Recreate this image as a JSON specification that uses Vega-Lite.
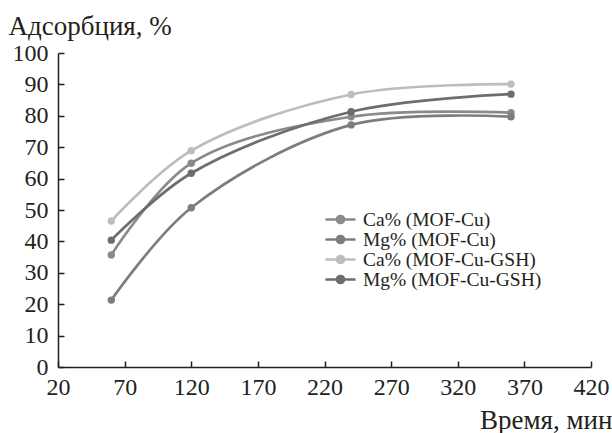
{
  "$schema": "https://vega.github.io/schema/vega-lite/v6.json",
  "width": 533,
  "height": 314,
  "autosize": "none",
  "padding": {"left": 58, "top": 53, "right": 21, "bottom": 66},
  "background": "white",
  "config": {
    "view": {"stroke": null},
    "font": "Times New Roman"
  },
  "data": {
    "values": [
      {"t": 60, "v": 35.7, "s": "Ca% (MOF-Cu)"},
      {"t": 120, "v": 64.9, "s": "Ca% (MOF-Cu)"},
      {"t": 240, "v": 79.7, "s": "Ca% (MOF-Cu)"},
      {"t": 360, "v": 81.0, "s": "Ca% (MOF-Cu)"},
      {"t": 60, "v": 21.3, "s": "Mg% (MOF-Cu)"},
      {"t": 120, "v": 50.7, "s": "Mg% (MOF-Cu)"},
      {"t": 240, "v": 77.1, "s": "Mg% (MOF-Cu)"},
      {"t": 360, "v": 79.7, "s": "Mg% (MOF-Cu)"},
      {"t": 60, "v": 46.5, "s": "Ca% (MOF-Cu-GSH)"},
      {"t": 120, "v": 68.9, "s": "Ca% (MOF-Cu-GSH)"},
      {"t": 240, "v": 86.8, "s": "Ca% (MOF-Cu-GSH)"},
      {"t": 360, "v": 90.1, "s": "Ca% (MOF-Cu-GSH)"},
      {"t": 60, "v": 40.4, "s": "Mg% (MOF-Cu-GSH)"},
      {"t": 120, "v": 61.7, "s": "Mg% (MOF-Cu-GSH)"},
      {"t": 240, "v": 81.3, "s": "Mg% (MOF-Cu-GSH)"},
      {"t": 360, "v": 86.9, "s": "Mg% (MOF-Cu-GSH)"}
    ]
  },
  "encoding": {
    "x": {
      "field": "t", "type": "quantitative",
      "scale": {"domain": [20, 420], "nice": false, "zero": false},
      "axis": {"grid": false, "values": [20, 70, 120, 170, 220, 270, 320, 370, 420], "domainColor": "#231f20", "tickColor": "#231f20", "labelColor": "#231f20", "titleColor": "#231f20", "domainWidth": 1.5, "tickWidth": 1.5, "labelFont": "Times New Roman", "labelFontSize": 24, "titleFont": "Times New Roman", "titleFontSize": 27, "titleFontWeight": "normal", "tickSize": -6, "labelPadding": 14, "labelFlush": false, "labelOverlap": false, "title": "Время, мин", "titleAnchor": null, "titleAlign": "right", "titleX": 554, "titleY": 61, "titleBaseline": "alphabetic"}
    },
    "y": {
      "field": "v", "type": "quantitative",
      "scale": {"domain": [0, 100], "nice": false},
      "axis": {"grid": false, "values": [0, 10, 20, 30, 40, 50, 60, 70, 80, 90, 100], "domainColor": "#231f20", "tickColor": "#231f20", "labelColor": "#231f20", "titleColor": "#231f20", "domainWidth": 1.5, "tickWidth": 1.5, "labelFont": "Times New Roman", "labelFontSize": 24, "titleFont": "Times New Roman", "titleFontSize": 27, "titleFontWeight": "normal", "tickSize": -6, "labelPadding": 16, "labelFlush": false, "labelOverlap": false, "title": "Адсорбция, %", "titleAngle": 0, "titleAnchor": null, "titleAlign": "left", "titleX": -50, "titleY": -19, "titleBaseline": "alphabetic"}
    },
    "color": {
      "field": "s", "type": "nominal",
      "scale": {"domain": ["Ca% (MOF-Cu)", "Mg% (MOF-Cu)", "Ca% (MOF-Cu-GSH)", "Mg% (MOF-Cu-GSH)"], "range": ["#898a8c", "#7c7d7f", "#bcbdbf", "#6c6d6f"]},
      "legend": {"orient": "none", "legendX": 272, "legendY": 156, "title": null, "labelFont": "Times New Roman", "labelFontSize": 19.5, "labelColor": "#231f20", "labelLimit": 0, "symbolType": "M-1.667,0H1.667M0.4,0A0.4,0.4,0,1,1,-0.4,0A0.4,0.4,0,1,1,0.4,0Z", "symbolSize": 324, "symbolStrokeWidth": 2.5, "symbolOpacity": 1, "rowPadding": 0, "labelOffset": 12}
    }
  },
  "layer": [
    {"mark": {"type": "line", "interpolate": "catmull-rom", "strokeWidth": 2.7}},
    {"mark": {"type": "point", "filled": true, "size": 55, "opacity": 1}}
  ]
}
